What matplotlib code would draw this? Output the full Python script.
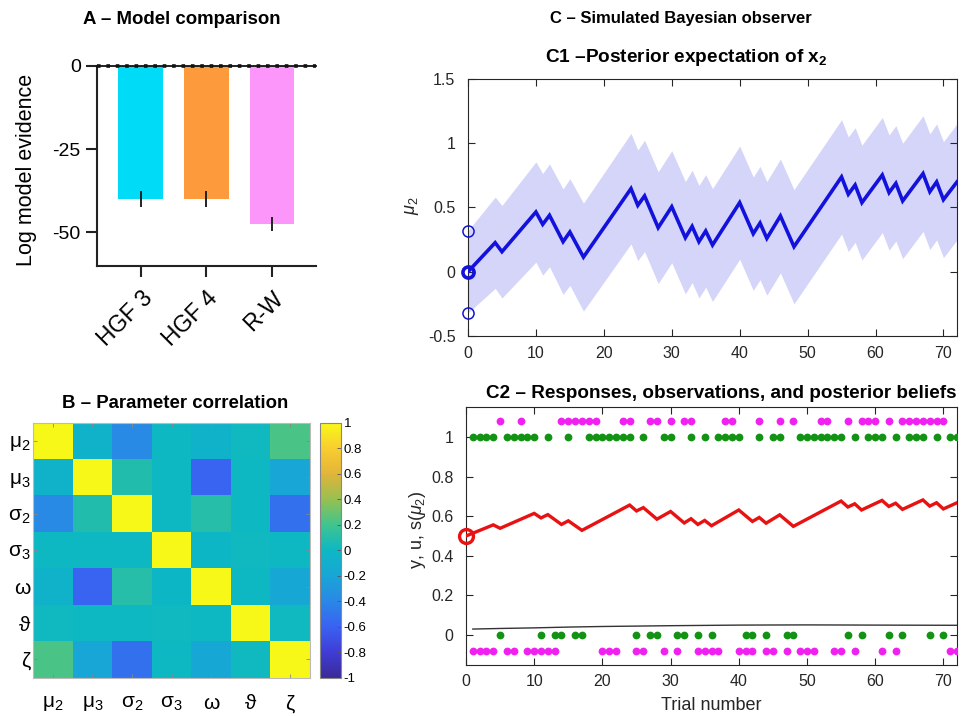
import numpy as np
import matplotlib
matplotlib.use("Agg")
import matplotlib.pyplot as plt
from matplotlib.colors import LinearSegmentedColormap

plt.rcParams['font.family'] = ['Liberation Sans', 'DejaVu Sans']
plt.rcParams['mathtext.fontset'] = 'custom'
plt.rcParams['mathtext.rm'] = 'Liberation Sans'
plt.rcParams['mathtext.it'] = 'Liberation Sans:italic'
plt.rcParams['mathtext.bf'] = 'Liberation Sans:bold'

# ---------------- data ----------------
models = ['HGF 3', 'HGF 4', 'R-W']
lme = [-40.0, -40.1, -47.5]
lme_err = [2.4, 2.4, 2.0]
bar_colors = ['#00dcf8', '#fd9a3c', '#fc96fa']

params = ['μ$_2$', 'μ$_3$', 'σ$_2$', 'σ$_3$', 'ω', 'ϑ', 'ζ']
corr = [
    [1.00, -0.06, -0.38, 0.00, -0.07, 0.01, 0.22],
    [-0.06, 1.00, 0.08, 0.00, -0.58, 0.00, -0.20],
    [-0.38, 0.08, 1.00, 0.00, 0.10, 0.00, -0.52],
    [0.00, 0.00, 0.00, 1.00, -0.01, 0.01, 0.00],
    [-0.07, -0.58, 0.10, -0.01, 1.00, 0.00, -0.18],
    [0.01, 0.00, 0.00, 0.01, 0.00, 1.00, 0.01],
    [0.22, -0.20, -0.52, 0.00, -0.18, 0.01, 1.00],
]

# posterior mean of x2 at turning points (trial, value) and band half-width
mu2_t = [0, 4, 5, 10, 11, 12, 14, 15, 17, 24, 25, 26, 28, 30, 32, 33, 34, 35, 36,
         40, 42, 43, 44, 46, 48, 55, 56, 57, 58, 61, 62, 63, 64, 67, 68, 69, 70, 72]
mu2_v = [0.0, 0.226, 0.156, 0.465, 0.369, 0.439, 0.234, 0.309, 0.114, 0.647, 0.517,
         0.590, 0.343, 0.506, 0.265, 0.353, 0.234, 0.317, 0.208, 0.538, 0.296, 0.379,
         0.260, 0.434, 0.195, 0.738, 0.603, 0.675, 0.538, 0.753, 0.616, 0.688, 0.551,
         0.764, 0.623, 0.699, 0.561, 0.699]
mu2_sd = [0.32, 0.355, 0.36, 0.39, 0.395, 0.40, 0.41, 0.415, 0.42, 0.43, 0.43, 0.433,
          0.435, 0.436, 0.437, 0.437, 0.438, 0.438, 0.439, 0.44, 0.441, 0.441, 0.442,
          0.443, 0.444, 0.445, 0.446, 0.446, 0.447, 0.448, 0.448, 0.449, 0.449, 0.45,
          0.45, 0.451, 0.451, 0.452]

# observations u and responses y, trials 1..72
u = [1, 1, 1, 1, 0, 1, 1, 1, 1, 1,
     0, 1, 0, 0, 1, 0, 0, 1, 1, 1,
     1, 1, 1, 1, 0, 1, 0, 0, 1, 1,
     0, 0, 1, 0, 1, 0, 1, 1, 1, 1,
     0, 0, 1, 0, 1, 1, 0, 0, 1, 1,
     1, 1, 1, 1, 1, 0, 1, 0, 1, 1,
     1, 0, 1, 0, 1, 1, 1, 0, 1, 0,
     1, 1]
y = [0, 0, 0, 0, 1, 0, 0, 1, 0, 0,
     0, 0, 0, 1, 1, 1, 1, 1, 1, 0,
     0, 0, 1, 1, 0, 0, 1, 1, 0, 1,
     0, 1, 1, 0, 0, 0, 0, 1, 1, 0,
     0, 0, 1, 0, 0, 1, 0, 1, 0, 0,
     0, 1, 1, 0, 0, 1, 0, 1, 1, 1,
     0, 1, 0, 1, 1, 1, 1, 1, 1, 1,
     0, 0]

# learning-rate trace (thin black line)
lr_t = [1, 5, 10, 15, 20, 25, 30, 40, 50, 60, 72]
lr_v = [0.030, 0.033, 0.036, 0.040, 0.043, 0.045, 0.047, 0.050, 0.051, 0.050, 0.049]

# ---------------- figure ----------------
W, H = 961, 716
fig = plt.figure(figsize=(W / 100, H / 100), dpi=100)


def box(l, t, r, b):
    return [l / W, 1 - b / H, (r - l) / W, (b - t) / H]


def ftext(x, yy, s, **kw):
    kw.setdefault('ha', 'center')
    kw.setdefault('va', 'center')
    fig.text(x / W, 1 - yy / H, s, **kw)


# ---- Panel A ----
axA = fig.add_axes(box(96.7, 65.7, 316, 265.7))
xA = np.arange(len(models))
axA.bar(xA, lme, width=0.68, color=bar_colors, linewidth=0, zorder=2)
axA.errorbar(xA, lme, yerr=lme_err, fmt='none', ecolor='#222222', elinewidth=1.4,
             capsize=0, zorder=3)
axA.set_xlim(-0.667, 2.667)
axA.set_ylim(-60, 0)
axA.plot([-0.667, 2.667], [0, 0], color='#111111', lw=1.3, clip_on=False, zorder=4)
axA.plot([-0.667, 2.667], [0, 0], color='#111111', lw=2.6, ls=(0, (1, 1.6)),
         clip_on=False, zorder=4)
for s in ['top', 'right']:
    axA.spines[s].set_visible(False)
for s in ['left', 'bottom']:
    axA.spines[s].set_linewidth(1.5)
    axA.spines[s].set_color('#222222')
axA.set_yticks([0, -25, -50])
axA.set_yticklabels(['0', '-25', '-50'], fontsize=14)
axA.set_xticks(xA)
axA.set_xticklabels(models, fontsize=16.5, rotation=45, ha='right',
                    rotation_mode='anchor')
axA.tick_params(direction='out', length=8, width=1.5, color='#222222')
axA.tick_params(axis='x', pad=7)
ftext(27, 170, 'Log model evidence', rotation=90, fontsize=15.5)
ftext(182, 20, 'A – Model comparison', fontsize=13.4, fontweight='bold')

# ---- Panel B ----
cmap = LinearSegmentedColormap.from_list('parula_like', [
    (0.0, '#3b2a98'), (0.1, '#3f3dd6'), (0.2, '#3a62f2'), (0.3, '#2a88e6'),
    (0.4, '#18a6d6'), (0.5, '#0db8c4'), (0.6, '#40c48e'), (0.7, '#98c050'),
    (0.8, '#e2b43a'), (0.9, '#f8cc30'), (1.0, '#f8f818')])
axB = fig.add_axes(box(33, 422.7, 310, 677.7))
im = axB.imshow(np.array(corr), cmap=cmap, vmin=-1, vmax=1, aspect='auto',
                interpolation='nearest')
axB.set_xticks(range(len(params)))
axB.set_yticks(range(len(params)))
axB.set_xticklabels(params, fontsize=15)
axB.set_yticklabels(params, fontsize=15)
axB.tick_params(direction='in', length=3, width=0.6, color='#888888',
                top=True, right=True)
axB.tick_params(axis='x', pad=12)
axB.tick_params(axis='y', pad=2)
for s in axB.spines.values():
    s.set_color('#bbbbbb')
    s.set_linewidth(0.8)
ftext(175, 403, 'B – Parameter correlation', fontsize=13.4, fontweight='bold')

cax = fig.add_axes(box(320, 422.7, 341, 677.7))
cb = fig.colorbar(im, cax=cax)
cb.set_ticks(np.round(np.arange(-1, 1.01, 0.2), 1))
cb.set_ticklabels(['-1', '-0.8', '-0.6', '-0.4', '-0.2', '0', '0.2', '0.4', '0.6',
                   '0.8', '1'])
cax.tick_params(direction='in', length=3, width=0.6, labelsize=9.5, pad=2,
                color='#555555')
cb.outline.set_edgecolor('#888888')
cb.outline.set_linewidth(0.8)

# ---- Panel C titles ----
ftext(681, 18, 'C – Simulated Bayesian observer', fontsize=12, fontweight='bold')
ftext(686, 57, r'C1 –Posterior expectation of x$_{\mathbf{2}}$', fontsize=13.7,
      fontweight='bold')
ftext(721, 393, 'C2 – Responses, observations, and posterior beliefs', fontsize=13.6,
      fontweight='bold')

axis_col = '#262626'


def matlab_style(ax):
    for s in ax.spines.values():
        s.set_color(axis_col)
        s.set_linewidth(0.8)
    ax.tick_params(direction='in', length=5, width=0.8, color=axis_col,
                   top=True, right=True, labelsize=11.5, labelcolor=axis_col)
    ax.tick_params(axis='y', pad=9)
    ax.tick_params(axis='x', pad=7)


# ---- Panel C1 ----
axC1 = fig.add_axes(box(468, 79, 957, 336))
mt = np.array(mu2_t, dtype=float)
mv = np.array(mu2_v)
sd = np.array(mu2_sd)
axC1.fill_between(mt, mv - sd, mv + sd, color='#d5d5f9', lw=0, zorder=1)
axC1.plot(mt, mv, color='#1212dc', lw=2.6, zorder=3, solid_joinstyle='miter')
axC1.plot([mt[0]], [mv[0]], 'o', ms=8, mfc='none', mec='#1212dc', mew=2.6,
          clip_on=False, zorder=4)
axC1.plot([mt[0], mt[0]], [mv[0] + sd[0], mv[0] - sd[0]], 'o', ms=8, mfc='none',
          mec='#1212dc', mew=1.1, ls='none', clip_on=False, zorder=4)
axC1.set_xlim(0, 72)
axC1.set_ylim(-0.5, 1.5)
axC1.set_xticks(range(0, 71, 10))
axC1.set_yticks([-0.5, 0, 0.5, 1, 1.5])
axC1.set_yticklabels(['-0.5', '0', '0.5', '1', '1.5'])
matlab_style(axC1)
ftext(412, 206, r'$\mu_2$', rotation=90, fontsize=13, color=axis_col)

# ---- Panel C2 ----
axC2 = fig.add_axes(box(466, 407.3, 957, 664.7))
trials = np.arange(1, len(u) + 1)
ua = np.array(u)
ya = np.array(y)
axC2.plot(trials, ua, 'o', ms=5.6, color='#139313', mec='none', zorder=3,
          clip_on=True)
axC2.plot(trials, np.where(ya == 1, 1.08, -0.08), 'o', ms=5.6, color='#f020f0',
          mec='none', zorder=3)
axC2.plot(mt, 1 / (1 + np.exp(-mv)), color='#e81212', lw=2.4, zorder=4,
          solid_joinstyle='miter')
axC2.plot([0], [0.5], 'o', ms=10, mfc='none', mec='#e81212', mew=2.4,
          clip_on=False, zorder=5)
axC2.plot(lr_t, lr_v, color='#333333', lw=1.0, zorder=2)
axC2.set_xlim(0, 72)
axC2.set_ylim(-0.15, 1.15)
axC2.set_xticks(range(0, 71, 10))
axC2.set_yticks([0, 0.2, 0.4, 0.6, 0.8, 1])
axC2.set_yticklabels(['0', '0.2', '0.4', '0.6', '0.8', '1'])
matlab_style(axC2)
ftext(711, 705, 'Trial number', fontsize=13, color=axis_col)
ftext(418, 530, r'y, u, s($\mu_2$)', rotation=90, fontsize=13, color=axis_col)

fig.savefig('out.png', dpi=100)
